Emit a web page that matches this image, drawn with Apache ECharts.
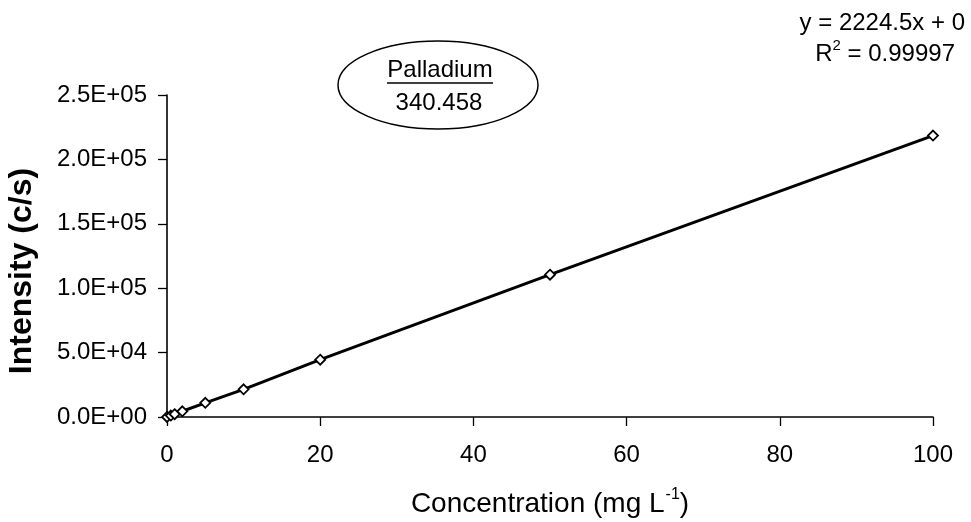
<!DOCTYPE html>
<html>
<head>
<meta charset="utf-8">
<script src="https://cdn.jsdelivr.net/npm/echarts@6/dist/echarts.min.js"></script>
<style>
  html, body { margin: 0; padding: 0; background: #fff; }
  #chart { width: 971px; height: 522px; }
</style>
</head>
<body>
<div id="chart"></div>
<script>
// Palladium 340.458 nm calibration standards
const concentrations = [0, 0.5, 1, 2, 5, 10, 20, 50, 100];       // mg L-1
const intensities    = [0, 1100, 2200, 4450, 11000, 21500, 44500, 110500, 218500]; // c/s
const xTicks = { min: 0, max: 100, interval: 20 };
const yTicks = { min: 0, max: 250000, interval: 50000 };
const elementName = 'Palladium';
const wavelength = '340.458';
const fitEquation = 'y = 2224.5x + 0';
const fitR2 = '0.99997';

const font = 'Liberation Sans, Arial, sans-serif';
const chart = echarts.init(document.getElementById('chart'), null, { renderer: 'canvas' });

chart.setOption({
  backgroundColor: '#ffffff',
  animation: false,
  grid: { left: 167, right: 38, top: 95, bottom: 105, containLabel: false, outerBoundsMode: 'none' },
  xAxis: {
    type: 'value',
    min: xTicks.min, max: xTicks.max, interval: xTicks.interval,
    splitLine: { show: false },
    axisLine: { lineStyle: { color: '#000', width: 1.6 } },
    axisTick: { inside: false, length: 9, lineStyle: { color: '#000', width: 1.3 } },
    axisLabel: { color: '#000', fontSize: 24, fontFamily: font, margin: 26 },
    name: '{t|Concentration (mg L}{s|-1}{t|)}',
    nameLocation: 'middle',
    nameGap: 70,
    nameTextStyle: {
      rich: {
        t: { fontSize: 28, fontFamily: font, color: '#000', lineHeight: 31, verticalAlign: 'bottom' },
        s: { fontSize: 16, fontFamily: font, color: '#000', lineHeight: 31, verticalAlign: 'top', padding: [0, 0, 11, 1] }
      }
    }
  },
  yAxis: {
    type: 'value',
    min: yTicks.min, max: yTicks.max, interval: yTicks.interval,
    splitLine: { show: false },
    axisLine: { show: true, lineStyle: { color: '#000', width: 1.6 } },
    axisTick: { show: true, inside: false, length: 9, lineStyle: { color: '#000', width: 1.3 } },
    axisLabel: {
      color: '#000', fontSize: 24, fontFamily: font, margin: 20,
      formatter: v => {
        const e = v === 0 ? 0 : Math.floor(Math.log10(v));
        const m = v === 0 ? 0 : v / Math.pow(10, e);
        return m.toFixed(1) + 'E+' + String(e).padStart(2, '0');
      }
    },
    name: 'Intensity (c/s)',
    nameLocation: 'middle',
    nameGap: 129,
    nameTextStyle: { color: '#000', fontSize: 32, fontWeight: 'bold', fontFamily: font, padding: [0, 30, 0, 0] }
  },
  series: [{
    type: 'line',
    data: concentrations.map((c, i) => [c, intensities[i]]),
    lineStyle: { color: '#000', width: 3 },
    symbol: 'diamond',
    symbolSize: 10,
    itemStyle: { color: '#fff', borderColor: '#000', borderWidth: 1.8 },
    z: 3
  }],
  graphic: [
    {
      type: 'ellipse',
      shape: { cx: 438, cy: 85, rx: 100, ry: 44 },
      style: { fill: '#fff', stroke: '#000', lineWidth: 1.5 }
    },
    {
      type: 'text', x: 440, y: 70,
      style: { text: elementName, font: '24px ' + font, fill: '#000', align: 'center', verticalAlign: 'middle' }
    },
    {
      type: 'line',
      shape: { x1: 387, y1: 83, x2: 493, y2: 83 },
      style: { stroke: '#000', lineWidth: 1.6 }
    },
    {
      type: 'text', x: 439, y: 103,
      style: { text: wavelength, font: '24px ' + font, fill: '#000', align: 'center', verticalAlign: 'middle' }
    },
    {
      type: 'text', right: 6, top: 11,
      style: { text: fitEquation, font: '24px ' + font, fill: '#000' }
    },
    {
      type: 'text', right: 16, top: 38,
      style: {
        text: '{t|R}{s|2}{t| = ' + fitR2 + '}',
        rich: {
          t: { fontSize: 24, fontFamily: font, fill: '#000', lineHeight: 28, verticalAlign: 'bottom' },
          s: { fontSize: 15, fontFamily: font, fill: '#000', lineHeight: 28, verticalAlign: 'top', padding: [0, 0, 10, 0] }
        }
      }
    }
  ]
});
</script>
</body>
</html>
